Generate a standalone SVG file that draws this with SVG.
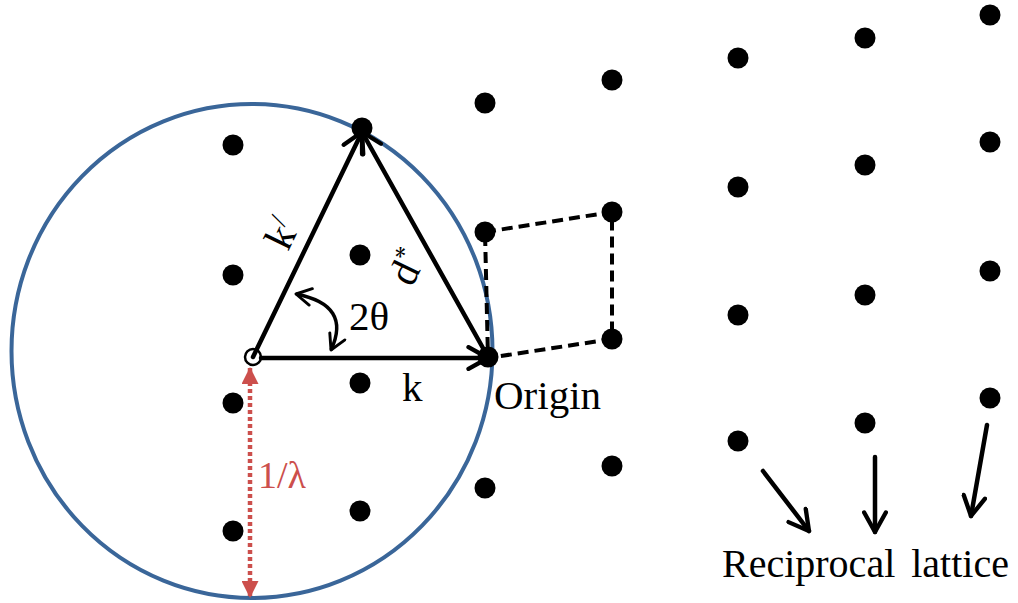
<svg xmlns="http://www.w3.org/2000/svg" width="1018" height="603" viewBox="0 0 1018 603">
<style>
.dot{fill:#000}
.t{font-family:"Liberation Serif","Times New Roman",serif;fill:#000}
.vec{stroke:#000;stroke-width:4.5;fill:none;stroke-linecap:round}
.dash{stroke:#000;stroke-width:4;fill:none;stroke-dasharray:11 6}
</style>
<defs>
<marker id="chev" viewBox="0 0 24 24" refX="21" refY="12" markerWidth="26" markerHeight="26" markerUnits="userSpaceOnUse" orient="auto-start-reverse">
<path d="M3,2 L21,12 L3,22" fill="none" stroke="#000" stroke-width="4" stroke-linecap="round" stroke-linejoin="round"/>
</marker>
<marker id="chevs" viewBox="0 0 24 24" refX="21" refY="12" markerWidth="20" markerHeight="20" markerUnits="userSpaceOnUse" orient="auto-start-reverse">
<path d="M3,2 L21,12 L3,22" fill="none" stroke="#000" stroke-width="3.5" stroke-linecap="round" stroke-linejoin="round"/>
</marker>
<marker id="red" viewBox="0 0 16 16" refX="15" refY="8" markerWidth="17" markerHeight="17" markerUnits="userSpaceOnUse" orient="auto-start-reverse">
<path d="M0,0 L16,8 L0,16 Z" fill="#cc4f4c"/>
</marker>
</defs>
<rect width="1018" height="603" fill="#fff"/>

<g id="ewald-sphere">
<ellipse cx="252" cy="351" rx="240.5" ry="247" fill="none" stroke="#3a6699" stroke-width="4"/>
</g>

<g id="lattice">
<circle class="dot" cx="233" cy="145" r="10.5"/>
<circle class="dot" cx="233" cy="275" r="10.5"/>
<circle class="dot" cx="233" cy="403" r="10.5"/>
<circle class="dot" cx="233" cy="531" r="10.5"/>
<circle class="dot" cx="362" cy="128" r="10.5"/>
<circle class="dot" cx="360" cy="255" r="10.5"/>
<circle class="dot" cx="360" cy="383" r="10.5"/>
<circle class="dot" cx="360" cy="511" r="10.5"/>
<circle class="dot" cx="485" cy="103" r="10.5"/>
<circle class="dot" cx="485" cy="232" r="10.5"/>
<circle class="dot" cx="488" cy="357" r="10.5"/>
<circle class="dot" cx="485" cy="488" r="10.5"/>
<circle class="dot" cx="612" cy="80" r="10.5"/>
<circle class="dot" cx="612" cy="212" r="10.5"/>
<circle class="dot" cx="612" cy="339" r="10.5"/>
<circle class="dot" cx="612" cy="466" r="10.5"/>
<circle class="dot" cx="738" cy="58" r="10.5"/>
<circle class="dot" cx="738" cy="187" r="10.5"/>
<circle class="dot" cx="738" cy="315" r="10.5"/>
<circle class="dot" cx="738" cy="441" r="10.5"/>
<circle class="dot" cx="865" cy="38" r="10.5"/>
<circle class="dot" cx="865" cy="165" r="10.5"/>
<circle class="dot" cx="865" cy="295" r="10.5"/>
<circle class="dot" cx="865" cy="423" r="10.5"/>
<circle class="dot" cx="990" cy="15" r="10.5"/>
<circle class="dot" cx="990" cy="142" r="10.5"/>
<circle class="dot" cx="990" cy="271" r="10.5"/>
<circle class="dot" cx="990" cy="398" r="10.5"/>
</g>

<g id="connectors">
<path class="dash" d="M485,232 L612,212 L612,339 L488,358 Z"/>
<line class="vec" x1="253" y1="357" x2="362" y2="132" marker-end="url(#chev)"/>
<line class="vec" x1="488" y1="357" x2="362" y2="132" marker-end="url(#chev)"/>
<line class="vec" x1="261" y1="358" x2="488" y2="358" marker-end="url(#chev)"/>
<path d="M296,294 Q352,305 331,350" fill="none" stroke="#000" stroke-width="3.5" marker-start="url(#chevs)" marker-end="url(#chevs)"/>
<line x1="250" y1="368" x2="250" y2="597" stroke="#cc4f4c" stroke-width="4.5" stroke-dasharray="4 3" marker-start="url(#red)" marker-end="url(#red)"/>
<line class="vec" x1="763" y1="471" x2="809" y2="531" marker-end="url(#chev)"/>
<line class="vec" x1="875" y1="457" x2="875" y2="532" marker-end="url(#chev)"/>
<line class="vec" x1="987" y1="425" x2="971" y2="516" marker-end="url(#chev)"/>
</g>

<g id="center">
<circle cx="253" cy="357" r="8" fill="none" stroke="#000" stroke-width="2.5"/>
</g>

<g id="labels">
<text class="t" font-size="41" transform="translate(288,252) rotate(-64)">k<tspan font-size="26" dy="-14">/</tspan></text>
<text class="t" font-size="41" transform="translate(412,288) rotate(-64)">d<tspan font-size="26" dy="-14">*</tspan></text>
<text class="t" font-size="41" x="349" y="330">2θ</text>
<text class="t" font-size="41" x="402" y="401">k</text>
<text class="t" font-size="41" x="494" y="409">Origin</text>
<text class="t" font-size="38" x="258" y="488" style="fill:#cc4f4c">1/λ</text>
<text class="t" font-size="40" x="722" y="577">Reciprocal<tspan dx="6"> lattice</tspan></text>
</g>
</svg>
